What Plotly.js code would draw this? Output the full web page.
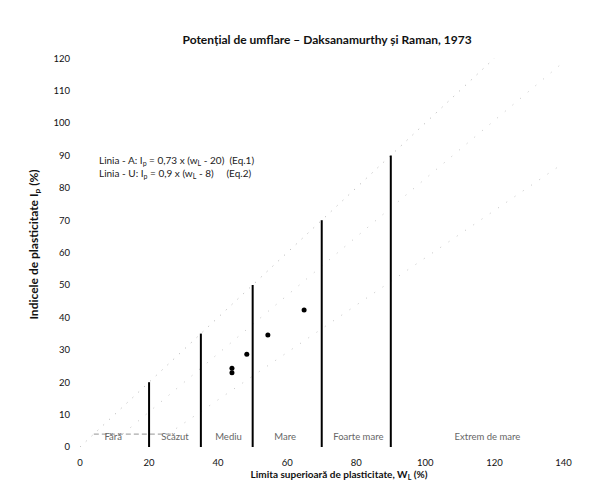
<!DOCTYPE html>
<html>
<head>
<meta charset="utf-8">
<script src="https://cdn.plot.ly/plotly-3.0.1.min.js"></script>
<style>html,body{margin:0;padding:0;background:#fff;}#chart{width:603px;height:487px;}</style>
</head>
<body>
<div id="chart"></div>
<script>
// Class boundaries (liquid limit) and their heights (plasticity index)
const boundaryX = [20, 35, 50, 70, 90];
const boundaryTop = [20, 35, 50, 70, 90];
// Sample points
const sampleWL = [44, 44, 48.3, 54.4, 64.9];
const sampleIP = [24.3, 22.9, 28.6, 34.6, 42.3];
// Reference lines (endpoints)
const diagX = [0, 120];
const diagY = [0, 120];
const aLineX = [25.5, 140];
const aLineY = [4, 87.6];
const uLineX = [12.4, 140];
const uLineY = [4, 118.8];
const lowX = [4, 27];
const lowY = [4, 4];
// Class labels
const classNames = ["Fără", "Scăzut", "Mediu", "Mare", "Foarte mare", "Extrem de mare"];
const classLabelX = [9.6, 27.5, 43, 59.4, 80.6, 118];
const classLabelY = [2.8, 2.8, 2.8, 2.8, 2.8, 2.8];
const xTicks = [0, 20, 40, 60, 80, 100, 120, 140];
const yTicks = [0, 10, 20, 30, 40, 50, 60, 70, 80, 90, 100, 110, 120];

const FONT = 'Lato, "Open Sans", sans-serif';
const traces = [];
traces.push({x: diagX, y: diagY, mode: 'lines', line: {color: '#b0b0b0', width: 1, dash: '1px,7px'}, hoverinfo: 'skip'});
traces.push({x: uLineX, y: uLineY, mode: 'lines', line: {color: '#c4c4c4', width: 1, dash: '1px,9px'}, hoverinfo: 'skip'});
traces.push({x: aLineX, y: aLineY, mode: 'lines', line: {color: '#c4c4c4', width: 1, dash: '1px,9px'}, hoverinfo: 'skip'});
traces.push({x: lowX, y: lowY, mode: 'lines', line: {color: '#aaaaaa', width: 1.2, dash: '5px,3px'}, hoverinfo: 'skip'});
for (let i = 0; i < boundaryX.length; i++) {
  traces.push({x: [boundaryX[i], boundaryX[i]], y: [0, boundaryTop[i]], mode: 'lines',
    line: {color: '#000', width: 2}, hoverinfo: 'skip'});
}
traces.push({x: sampleWL, y: sampleIP, mode: 'markers', marker: {color: '#000', size: 5}});
traces.push({x: classLabelX, y: classLabelY, mode: 'text', text: classNames,
  textfont: {family: FONT, size: 9.5, color: '#666'}, textposition: 'middle center', hoverinfo: 'skip'});

const layout = {
  width: 603, height: 487,
  margin: {l: 80, r: 5, t: 42, b: 40},
  showlegend: false,
  paper_bgcolor: '#fff', plot_bgcolor: '#fff',
  font: {family: FONT, color: '#111', size: 9},
  title: {text: '<b>Potențial de umflare – Daksanamurthy și Raman, 1973</b>',
    x: 0.477, xref: 'paper', xanchor: 'center', y: 0.918, yanchor: 'middle',
    font: {size: 12, color: '#111', family: FONT}},
  xaxis: {range: [0, 150], tickvals: xTicks, ticktext: xTicks.map(String), showgrid: false, zeroline: false,
    showline: false, ticks: '', ticklabelstandoff: 8, tickfont: {size: 9.5, color: '#111'},
    title: {text: '<b>Limita superioară de plasticitate, W<sub>L</sub> (%)</b>', font: {size: 10, color: '#111'}, standoff: 4}},
  yaxis: {range: [0, 125], tickvals: yTicks, ticktext: yTicks.map(String), showgrid: false, zeroline: false,
    showline: false, ticks: '', ticklabelstandoff: 9, tickfont: {size: 9.5, color: '#111'},
    title: {text: '<b>Indicele de plasticitate I<sub>p</sub> (%)</b>', font: {size: 12, color: '#111'}, standoff: 12}},
  annotations: [
    {x: 4.9, y: 86.3, xref: 'x', yref: 'y', xanchor: 'left', yanchor: 'middle', showarrow: false, align: 'left',
     text: 'Linia - A: I<sub>p</sub> = 0,73 x (w<sub>L</sub> - 20)  (Eq.1)<br>Linia - U: I<sub>p</sub> = 0,9 x (w<sub>L</sub> - 8)     (Eq.2)',
     font: {size: 10, color: '#222'}}
  ]
};
Plotly.newPlot('chart', traces, layout, {displayModeBar: false, staticPlot: true});
</script>
</body>
</html>
